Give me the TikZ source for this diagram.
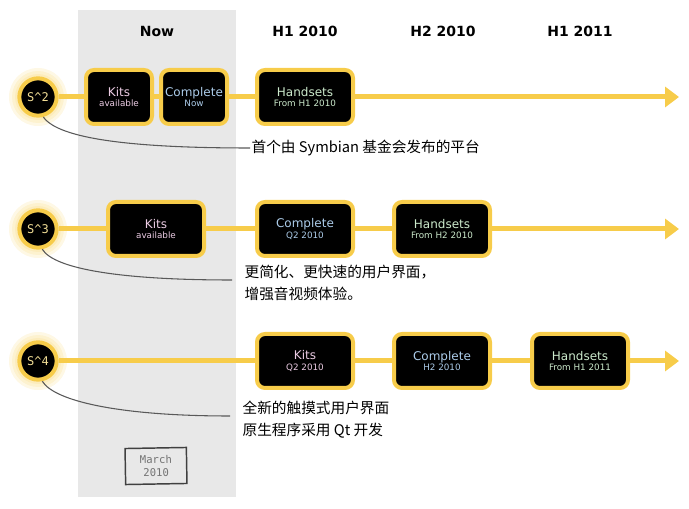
\documentclass[tikz,border=0pt]{standalone}
\usepackage{fontspec}
\setmainfont{DejaVu Sans}
\newfontfamily\cjk{Noto Sans CJK SC}
\newfontfamily\hand{DejaVu Sans Mono}
\usetikzlibrary{positioning, arrows.meta}
\definecolor{gold}{RGB}{247,204,74}
\definecolor{band}{RGB}{232,232,232}
\definecolor{kitsc}{RGB}{236,204,228}
\definecolor{compc}{RGB}{172,204,234}
\definecolor{handc}{RGB}{204,234,204}
\definecolor{stext}{RGB}{242,222,150}

\tikzset{
  stage/.style={draw=gold, line width=3pt, fill=black, rounded corners=6pt,
    minimum width=49.5pt, minimum height=40.5pt, align=center, inner sep=1pt,
    font=\fontsize{9}{10}\selectfont},
  wide/.style={stage, minimum width=72pt},
  release/.style={circle, draw=gold, line width=3pt, fill=black, minimum size=28pt,
    inner sep=0pt, text=stext, font=\hand\fontsize{9}{10}\selectfont},
  glow/.style={fill=gold, opacity=0.14},
  track/.style={draw=gold, line width=3.75pt},
  tip/.style={-{Triangle[length=10.5pt, width=15pt]}},
  lead/.style={draw=black!65, line width=0.8pt},
  note/.style={font=\cjk\fontsize{11}{16.5}\selectfont, align=left, anchor=west, inner sep=1pt},
  hdr/.style={font=\bfseries\fontsize{10.5}{12}\selectfont, anchor=base}
}
\newcommand{\sub}[1]{\\[-2pt]{\fontsize{6.6}{7.5}\selectfont #1}}

\begin{document}
\begin{tikzpicture}[x=0.75pt, y=-0.75pt]
  \useasboundingbox (0,0) rectangle (689,509);
  \fill[band] (78,10) rectangle (236,497);

  \node[hdr] (now)  at (157,37) {Now};
  \node[hdr] (h110) at (305,37) {H1 2010};
  \node[hdr] (h210) at (443,37) {H2 2010};
  \node[hdr] (h111) at (580,37) {H1 2011};

  \coordinate (r1) at (38,97);
  \coordinate (r2) at (38,229);
  \coordinate (r3) at (38,361);
  \foreach \r in {r1,r2,r3}
    \foreach \g in {29,26,23}
      \fill[glow] (\r) circle (\g);

  \node[release] (s2) at (r1) {S\^{}2};
  \node[stage, text=kitsc]           (kits1) at (119,97) {Kits\sub{available}};
  \node[stage, text=compc, right=3.75pt of kits1] (comp1) {Complete\sub{Now}};
  \node[wide, text=handc]            (hand1) at (305,97) {Handsets\sub{From H1 2010}};
  \coordinate (end1) at (679,97);

  \node[release] (s3) at (r2) {S\^{}3};
  \node[wide, text=kitsc]  (kits2) at (156,229) {Kits\sub{available}};
  \node[wide, text=compc]  (comp2) at (305,229) {Complete\sub{Q2 2010}};
  \node[wide, text=handc]  (hand2) at (442,229) {Handsets\sub{From H2 2010}};
  \coordinate (end2) at (679,229);

  \node[release] (s4) at (r3) {S\^{}4};
  \node[wide, text=kitsc]  (kits3) at (305,361) {Kits\sub{Q2 2010}};
  \node[wide, text=compc]  (comp3) at (442,361) {Complete\sub{H2 2010}};
  \node[wide, text=handc]  (hand3) at (580,361) {Handsets\sub{From H1 2011}};
  \coordinate (end3) at (679,361);

  \draw[track, tip] (s2) -- (kits1) -- (comp1) -- (hand1) -- (end1);
  \draw[track, tip] (s3) -- (kits2) -- (comp2) -- (hand2) -- (end2);
  \draw[track, tip] (s4) -- (kits3) -- (comp3) -- (hand3) -- (end3);

  \node[note] (n1) at (250,148) {首个由 Symbian 基金会发布的平台};
  \node[note] (n2) at (243,283) {更简化、更快速的用户界面，\\增强音视频体验。};
  \node[note] (n3) at (241,420) {全新的触摸式用户界面\\原生程序采用 Qt 开发};
  \coordinate (e2) at (232,280);
  \coordinate (e3) at (230,416);

  \draw[lead] (s2.-75) .. controls +(15,22) and +(-117,0) .. (n1.west);
  \draw[lead] (s3.-78) .. controls +(12,20) and +(-110,0) .. (e2);
  \draw[lead] (s4.-78) .. controls +(12,20) and +(-110,0) .. (e3);

  \node[draw=black!75, line width=1.1pt, rotate=1, minimum width=46pt, minimum height=27pt,
        align=center, text=black!55, font=\hand\fontsize{8}{10}\selectfont]
        (stamp) at (156,466) {March\\2010};
\end{tikzpicture}
\end{document}
